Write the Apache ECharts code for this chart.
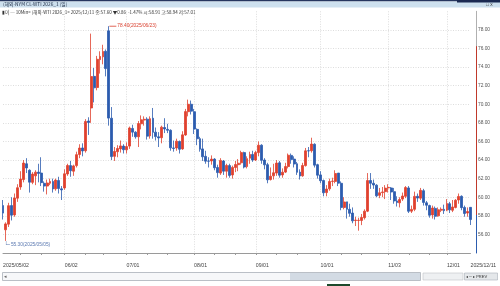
<!DOCTYPE html>
<html><head><meta charset="utf-8">
<script src="https://cdn.jsdelivr.net/npm/echarts@6.0.0/dist/echarts.min.js"></script>
<style>html,body{margin:0;padding:0;background:#fff;overflow:hidden}#c{width:500px;height:286px}</style>
</head><body><div id="c"></div>
<script>
// ---- categories (trading days incl. exchange holidays) ----
const firstDay = '2025-05-02';
const lastDay = '2025-12-11';
function weekdayList(a, b) {
  const out = [];
  const d = new Date(a + 'T00:00:00Z'), e = new Date(b + 'T00:00:00Z');
  while (d <= e) {
    const w = d.getUTCDay();
    if (w !== 0 && w !== 6) {
      out.push(d.getUTCFullYear() + '/' + String(d.getUTCMonth() + 1).padStart(2, '0') + '/' + String(d.getUTCDate()).padStart(2, '0'));
    }
    d.setUTCDate(d.getUTCDate() + 1);
  }
  return out;
}
const dates = weekdayList(firstDay, lastDay);

// ---- OHLC values ----
const openP = [
  59.1,56.5,57.1,59.1,58.1,59.9,61.1,61.9,63.6,62.9,61.6,62.3,62.7,62.6,61.5,61.2,61.5,61.7,60.9,61.8,60.9,
  61.0,62.5,63.4,62.8,63.4,64.6,65.3,65.0,68.2,69.6,73.0,71.8,74.8,75.1,75.7,77.9,68.5,64.4,64.9,65.2,65.5,
  65.1,65.5,67.4,67.0,66.5,67.9,68.3,68.4,66.6,68.5,67.0,66.5,66.4,67.5,67.3,67.2,65.3,65.3,66.0,65.2,66.7,69.2,70.0,
  69.2,67.3,66.3,65.2,64.4,63.9,63.9,64.1,63.2,62.6,63.9,62.8,63.4,62.4,63.2,63.5,63.7,64.8,63.3,64.2,64.6,
  64.0,64.8,65.6,64.0,63.5,61.9,62.3,62.6,63.7,62.4,62.7,63.3,64.5,64.1,63.6,62.7,62.3,63.4,65.0,65.0,65.7,63.5,
  62.4,61.8,60.5,60.9,61.7,61.7,62.6,61.5,58.9,59.5,58.7,58.3,57.5,57.5,57.5,57.8,58.5,61.8,61.5,61.3,60.2,60.5,60.6,
  61.0,61.0,60.6,59.6,59.4,59.8,60.1,61.0,58.5,58.7,60.1,59.9,60.7,59.4,59.1,58.1,58.8,58.0,58.6,58.7,
  58.6,59.3,58.6,58.9,59.7,60.1,58.9,58.3,58.91
];
const closeP = [
  58.29,57.13,59.09,58.07,59.91,61.02,61.95,63.67,63.15,61.62,62.49,62.69,62.56,61.57,61.20,61.53,61.7,60.89,61.84,60.94,60.79,
  62.52,63.41,62.85,63.37,64.58,65.29,64.98,68.15,68.04,72.98,71.77,74.84,75.14,75.68,73.84,68.51,64.37,64.92,65.24,65.52,65.11,
  65.45,67.45,67.00,66.5,67.93,68.33,68.38,66.57,68.45,66.98,66.52,66.38,67.54,67.34,67.20,65.31,65.25,66.03,65.16,66.71,69.21,70.00,69.26,
  67.33,66.29,65.16,64.35,63.88,63.88,64.10,63.17,62.65,63.96,62.80,63.42,62.35,63.21,63.52,63.66,64.80,63.25,64.15,64.60,64.01,
  64.8,65.59,63.97,63.48,61.87,62.26,62.63,63.67,62.37,62.69,63.30,64.52,64.05,63.57,62.68,62.28,63.41,64.99,64.98,65.72,63.45,62.37,
  61.78,60.48,60.88,61.69,61.73,62.55,61.51,58.90,59.49,58.70,58.27,57.46,57.54,57.52,57.82,58.50,61.79,61.50,61.31,60.15,60.48,60.57,60.98,
  61.05,60.56,59.60,59.43,59.75,60.13,61.04,58.49,58.69,60.09,59.91,60.74,59.44,59.14,58.06,58.84,57.95,58.65,58.7,58.55,
  59.32,58.64,58.95,59.67,60.08,58.88,58.25,58.46,57.60
];
const lowP = [
  57.6,55.30,56.8,57.5,57.9,59.5,60.8,61.6,62.6,60.5,61.4,61.3,61.6,61.2,60.6,60.3,61.3,60.5,60.7,60.4,59.7,
  60.8,62.3,62.2,62.3,63.2,64.2,64.4,64.8,66.7,68.0,70.2,71.5,73.3,74.3,73.0,67.7,64.0,63.9,64.3,64.8,64.7,
  64.7,65.2,66.5,66.3,65.4,67.3,67.7,66.2,66.3,66.3,66.1,65.4,65.8,66.9,66.9,65.0,64.9,65.0,64.7,65.1,66.6,68.7,68.9,
  66.8,65.6,64.9,63.9,63.6,63.2,63.5,62.9,62.1,62.4,62.4,62.1,62.1,62.0,62.7,62.8,63.5,63.1,63.1,63.6,63.8,
  63.9,64.4,63.6,63.0,61.5,61.8,61.9,62.3,62.1,62.1,62.6,63.1,63.6,63.2,62.4,61.9,62.2,63.3,64.3,64.8,63.2,62.0,
  61.5,60.1,60.1,60.7,61.2,61.5,61.2,58.6,58.7,57.7,57.9,57.2,56.9,56.4,57.0,57.6,58.4,60.9,60.9,60.0,59.9,60.0,59.8,
  60.5,59.7,59.3,59.0,58.9,59.6,59.9,58.3,58.3,58.5,59.5,59.7,59.1,58.6,57.8,57.7,57.6,57.9,58.4,58.2,
  58.5,58.3,58.4,58.8,59.3,58.6,57.9,57.9,57.01
];
const highP = [
  59.7,57.3,59.4,60.0,60.4,61.4,62.8,64.0,64.2,63.0,62.7,62.9,63.6,64.3,61.7,61.9,62.0,62.0,62.0,62.2,61.2,
  63.0,63.6,63.9,63.5,64.9,65.7,65.8,68.4,68.6,77.6,73.9,75.2,75.7,76.4,75.9,78.40,69.7,65.4,65.6,66.1,65.7,
  65.9,67.6,67.8,67.1,68.2,68.8,68.7,68.6,68.7,69.6,67.5,67.0,67.7,68.5,67.9,67.3,66.1,66.3,66.1,67.1,69.5,70.5,70.4,
  69.5,67.4,66.5,66.3,65.0,64.3,64.5,64.2,63.5,64.2,64.0,63.6,63.6,63.4,63.9,64.1,65.0,64.9,64.4,64.9,65.0,
  65.0,66.0,65.7,64.2,63.7,63.2,63.6,64.0,63.9,63.1,63.7,64.7,64.7,64.4,63.8,63.0,63.7,65.3,65.4,66.4,65.8,63.6,
  62.8,61.9,61.3,62.0,62.1,62.9,62.6,61.7,60.0,59.5,59.3,58.9,57.9,57.8,58.2,58.7,62.6,62.6,61.9,61.4,61.0,61.1,61.3,
  61.4,61.1,61.0,60.1,60.0,60.5,61.2,61.2,59.1,60.6,60.4,61.0,60.9,59.6,59.2,59.1,59.0,58.9,58.9,59.2,
  59.8,59.5,59.7,59.8,60.4,60.2,59.1,58.9,58.94
];

// ---- tick labels / texts ----
const xLabelDates = ['2025/05/02','2025/06/02','2025/07/01','2025/08/01','2025/09/01','2025/10/01','2025/11/03','2025/12/01','2025/12/11'];
const xLabelTexts = ['2025/05/02','06/02','07/01','08/01','09/01','10/01','11/03','12/01','2025/12/11'];
const yMin = 54, yMax = 80, yStep = 2;
const titleText = '(해외-NYM CL-WTI 2026_1 (일)';
const infoText = '▮이 ─ 10Min< (해외-WTI 2026_1> 2025/12/11 종:57.60 ▼0.86  -1.47% 시:58.91 고:58.94 저:57.01';
const lastTag = ['57.60', '-1.47%'];

const UP = '#e0412e', DOWN = '#2c5cae';
const monthStarts = xLabelDates.slice(1, -1);

let iMax = 0, iMin = 0;
highP.forEach((v, i) => { if (v > highP[iMax]) iMax = i; });
lowP.forEach((v, i) => { if (v < lowP[iMin]) iMin = i; });
const ohlc = dates.map((d, i) => [openP[i], closeP[i], lowP[i], highP[i]]);
const tickIdx = [6,13,28,34,49,56,72,79,93,100,115,122,138,145];

const chart = echarts.init(document.getElementById('c'), null, { renderer: 'canvas' });
const font = 'Liberation Sans, Arial, sans-serif';
chart.setOption({
  animation: false,
  backgroundColor: '#fff',
  textStyle: { fontFamily: font },
  grid: { left: 1, right: 29.5, top: 11.3, bottom: 33 },
  xAxis: {
    type: 'category', data: dates, boundaryGap: false,
    axisLine: { lineStyle: { color: '#9a9a9a', width: 1 } },
    axisTick: { interval: (i) => monthStarts.includes(dates[i]) || tickIdx.includes(i), length: 2, lineStyle: { color: '#9a9a9a' } },
    axisLabel: {
      interval: (i) => xLabelDates.includes(dates[i]),
      formatter: (v) => { const k = xLabelDates.indexOf(v); return k >= 0 ? xLabelTexts[k] : ''; },
      align: 'left', fontSize: 5.2, color: '#444', margin: 10, showMaxLabel: true, showMinLabel: true, hideOverlap: false
    },
    splitLine: { show: true, interval: (i) => monthStarts.includes(dates[i]), lineStyle: { color: '#d4d4d4', type: [1, 1.5], width: 0.8 } }
  },
  yAxis: {
    type: 'value', position: 'right', min: yMin, max: yMax, interval: yStep, offset: 5.5, scale: true,
    axisLine: { show: true, lineStyle: { width: 1, color: new echarts.graphic.LinearGradient(0, 0, 0, 1, [
      { offset: 0, color: '#b0b0b0' }, { offset: 0.152, color: '#b0b0b0' },
      { offset: 0.153, color: '#c0392b' }, { offset: 0.835, color: '#c0392b' },
      { offset: 0.836, color: '#2c5cae' }, { offset: 1, color: '#2c5cae' }]) } },
    axisTick: { show: false },
    axisLabel: { fontSize: 4.8, color: '#555', margin: 2, formatter: (v) => (v === yMin || v === yMax) ? '' : v.toFixed(2) },
    splitLine: { show: true, showMinLine: false, showMaxLine: false, lineStyle: { color: '#d4d4d4', type: [1, 1.5], width: 0.8 } }
  },
  series: [{
    type: 'candlestick', data: ohlc, barWidth: 2.4, clip: false,
    itemStyle: { color: UP, color0: DOWN, borderColor: UP, borderColor0: DOWN, borderWidth: 0.8 },
    markPoint: {
      silent: true, animation: false,
      data: [
        { coord: [dates[iMax], highP[iMax]], symbol: 'rect', symbolSize: [7, 0.8], symbolOffset: [4, 0],
          itemStyle: { color: '#d9402f' },
          label: { show: true, position: 'right', distance: 1, fontSize: 4.8, color: '#d9402f',
            formatter: () => highP[iMax].toFixed(2) + '(' + dates[iMax] + ')' } },
        { coord: [dates[iMin], lowP[iMin]], symbol: 'path://M0,0H1V9H10V10H0Z', symbolSize: [4, 4], symbolOffset: [2, 2],
          itemStyle: { color: '#5a78b0' },
          label: { show: true, position: 'right', distance: 1, offset: [0, 2], fontSize: 4.8, color: '#5a78b0',
            formatter: () => lowP[iMin].toFixed(2) + '(' + dates[iMin] + ')' } }
      ]
    },
    markLine: {
      silent: true, symbol: 'none', animation: false,
      lineStyle: { width: 0, opacity: 0 },
      label: { show: true, position: 'end', distance: 10, formatter: () => lastTag.join('\n'),
        backgroundColor: '#1f4f9c', color: '#fff', fontSize: 4.5, lineHeight: 5.5, padding: [0.5, 3, 0.5, 1.5] },
      data: [{ yAxis: closeP[closeP.length - 1] }]
    }
  }],
  graphic: [
    { type: 'rect', shape: { x: 0, y: 0, width: 500, height: 1.5 }, style: { fill: '#26365f' }, silent: true },
    { type: 'rect', shape: { x: 0, y: 1.5, width: 500, height: 6 }, style: { fill: '#cde0ee' }, silent: true },
    { type: 'rect', shape: { x: 457, y: 0, width: 43, height: 2.5 }, style: { fill: '#1b2a52' }, silent: true },
    { type: 'text', x: 3, y: 4.6, style: { text: titleText, fontSize: 4.8, fill: '#1d2b44', verticalAlign: 'middle', fontFamily: 'Noto Sans CJK KR, sans-serif' }, silent: true },
    { type: 'text', x: 486, y: 4.6, style: { text: '□ x', fontSize: 4.8, fill: '#333', verticalAlign: 'middle' }, silent: true },
    { type: 'text', x: 2, y: 12.5, style: { text: infoText, fontSize: 4.5, fill: '#333', verticalAlign: 'middle', fontFamily: 'Noto Sans CJK KR, sans-serif' }, silent: true },
    { type: 'rect', shape: { x: 2.5, y: 272.5, width: 418, height: 8 }, style: { fill: '#f6f7f9', stroke: '#a9b0b8', lineWidth: 0.8 }, silent: true },
    { type: 'rect', shape: { x: 290, y: 273, width: 130, height: 7 }, style: { fill: '#d3dbe4' }, silent: true },
    { type: 'text', x: 4, y: 276.5, style: { text: '◂', fontSize: 4.5, fill: '#666', verticalAlign: 'middle' }, silent: true },
    { type: 'rect', shape: { x: 423, y: 273, width: 40, height: 7 }, style: { fill: '#eef0f2', stroke: '#c0c4c8', lineWidth: 0.6 }, silent: true },
    { type: 'rect', shape: { x: 464.5, y: 273, width: 33, height: 7 }, style: { fill: '#e4e7ea', stroke: '#a9b0b8', lineWidth: 0.6 }, silent: true },
    { type: 'text', x: 466, y: 276.5, style: { text: '◂ ─ ▸ PREV', fontSize: 4, fill: '#333', verticalAlign: 'middle' }, silent: true },
    { type: 'rect', shape: { x: 327, y: 284, width: 23, height: 2 }, style: { fill: '#1d4a2c' }, silent: true }
  ]
});
</script></body></html>
